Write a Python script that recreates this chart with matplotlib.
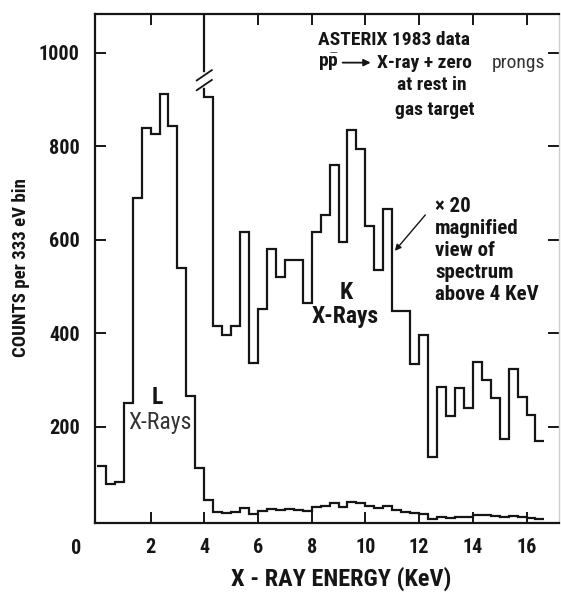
import numpy as np
import matplotlib
matplotlib.use('Agg')
import matplotlib.pyplot as plt
from matplotlib import font_manager

# narrowest lettering-like font that is installed
available = {f.name for f in font_manager.fontManager.ttflist}
candidates = ['Liberation Sans Narrow', 'Roboto Condensed', 'Roboto', 'Liberation Sans', 'DejaVu Sans']
FONT = next(c for c in candidates if c in available)
plt.rcParams['font.family'] = [FONT, 'DejaVu Sans']
plt.rcParams['mathtext.fontset'] = 'custom'
plt.rcParams['mathtext.bf'] = FONT + ':bold'
plt.rcParams['mathtext.rm'] = FONT

# spectrum, counts per 333 eV bin starting at 0 keV
bin_width = 1 / 3
raw_counts = [117, 78, 83, 252, 690, 840, 826, 912, 844, 540, 266, 112, 44,
              18, 17, 18, 27, 14, 20, 25, 22, 24, 23, 21, 29, 30, 37, 28, 39, 38,
              30, 27, 30, 22, 18, 16, 15, 4, 7, 6, 8, 8, 12, 11, 10, 7, 9, 7, 5, 4]

# x20 magnified view, starts at bin 11 (3.67 keV), first bin is off scale
mag_first_bin = 11
mag_counts = [2240, 906, 416, 397, 416, 616, 336, 452, 580, 521, 557, 557, 466,
              616, 653, 760, 595, 834, 794, 630, 535, 666, 447, 447, 335, 396,
              135, 285, 223, 283, 241, 339, 300, 263, 174, 324, 265, 226, 171]

x_ticks = [2, 4, 6, 8, 10, 12, 14, 16]
y_ticks = [200, 400, 600, 800, 1000]

W, H = 561, 594
ink = '#151515'

def px(x, y):
    return x / W, 1 - y / H

fig = plt.figure(figsize=(W / 100, H / 100), dpi=100)
ax = fig.add_axes([95 / W, 71 / H, 464 / W, 509 / H])

raw_edges = np.arange(len(raw_counts) + 1) * bin_width
mag_edges = (mag_first_bin + np.arange(len(mag_counts) + 1)) * bin_width
ax.stairs(raw_counts, raw_edges, baseline=None, color=ink, lw=1.6)
ax.stairs(mag_counts, mag_edges, baseline=None, color=ink, lw=1.6)

# break mark on the off-scale line
xb = mag_edges[1]
ax.plot([xb, xb], [931, 952], color='white', lw=4, zorder=3)
for yc in (931, 952):
    ax.plot([xb - 0.28, xb + 0.28], [yc - 11, yc + 11], color=ink, lw=1.3, zorder=4)

ax.set_xlim(-0.07, 17.21)
ax.set_ylim(-5.3, 1083)
ax.set_xticks(x_ticks)
ax.set_yticks(y_ticks)
ax.tick_params(direction='in', length=8, width=1.4, top=True, right=True,
               labelsize=14.5, pad=11, colors=ink)
for lab in ax.get_xticklabels() + ax.get_yticklabels():
    lab.set_fontweight('bold')
for s in ('left', 'bottom', 'top'):
    ax.spines[s].set_linewidth(1.6)
    ax.spines[s].set_color(ink)
ax.spines['right'].set_color('#cfcfcf')
ax.spines['right'].set_linewidth(1.0)

fig.text(*px(76, 548), '0', fontsize=14.5, fontweight='bold', ha='center', va='center', color=ink)
fig.text(*px(21, 268), 'COUNTS per 333 eV bin', rotation=90, fontsize=13.5,
         fontweight='bold', ha='center', va='center', color=ink)
fig.text(*px(341, 579), 'X - RAY ENERGY (KeV)', fontsize=17.5,
         fontweight='bold', ha='center', va='center', color=ink)

tkw = dict(fontsize=14, fontweight='bold', color=ink, va='center')
ax.text(8.24, 1028, 'ASTERIX 1983 data', ha='left', **tkw)
ax.text(8.24, 979, r'$\mathbf{p}\bar{\mathbf{p}}$', ha='left', **tkw)
ax.annotate('', xy=(10.3, 979), xytext=(9.05, 979),
            arrowprops=dict(arrowstyle='-|>', lw=1.3, color=ink, mutation_scale=10))
ax.text(10.43, 979, 'X-ray + zero', ha='left', **tkw)
ax.text(14.72, 979, 'prongs', ha='left', fontsize=14, color='#333333', va='center')
ax.text(12.48, 931, 'at rest in', ha='center', **tkw)
ax.text(12.6, 878, 'gas target', ha='center', **tkw)

note = ['\u00d7 20', 'magnified', 'view of', 'spectrum', 'above 4 KeV']
for i, line in enumerate(note):
    ax.text(12.6, 672 - i * 47, line, ha='left', fontsize=15, fontweight='bold',
            color=ink, va='center')
ax.annotate('', xy=(11.03, 572), xytext=(12.3, 658),
            arrowprops=dict(arrowstyle='-|>', lw=1.0, color=ink, mutation_scale=9))

ax.text(9.3, 487, 'K', ha='center', fontsize=17, fontweight='bold', color=ink, va='center')
ax.text(9.24, 436, 'X-Rays', ha='center', fontsize=17, fontweight='bold', color=ink, va='center')
ax.text(2.24, 262, 'L', ha='center', fontsize=17, fontweight='bold', color=ink, va='center')
ax.text(2.35, 209, 'X-Rays', ha='center', fontsize=17, color='#333333', va='center')

fig.savefig('out.png', dpi=100)
